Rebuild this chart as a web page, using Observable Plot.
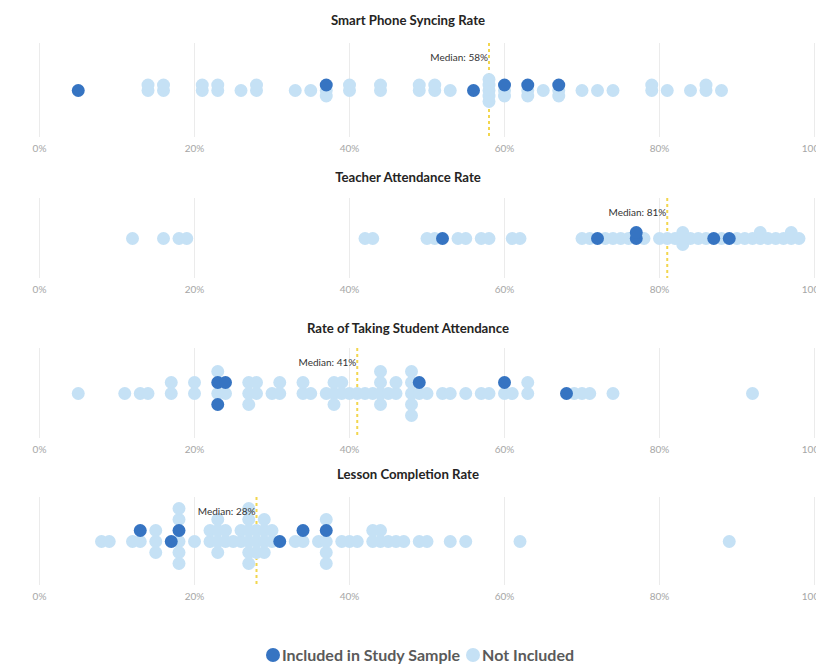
<!DOCTYPE html>
<html><head><meta charset="utf-8">
<script src="https://cdn.jsdelivr.net/npm/d3@7"></script>
<script src="https://cdn.jsdelivr.net/npm/@observablehq/plot@0.6"></script>
<style>
  html, body { margin: 0; padding: 0; background: #fff; }
  body { width: 816px; height: 667px; overflow: hidden; position: relative; font-family: Lato, "Open Sans", sans-serif; }
  .title { position: absolute; left: 0; width: 816px; text-align: center; font-weight: 700; font-size: 13.2px; line-height: 18px; color: #252423; }
  .panel { position: absolute; left: 0; }
  #legend { position: absolute; left: 0; width: 816px; top: 645px; display: flex; justify-content: center; align-items: center; font-weight: 700; font-size: 16px; color: #5a5a5a; padding-left: 24px; box-sizing: border-box; }
  #legend .sw { display: inline-block; width: 14px; height: 14px; border-radius: 50%; margin: 0 2px 0 0; }
  #legend .item { display: flex; align-items: center; margin: 0 3px; }
</style></head><body>
<script>
// ---- data ----
const titles = ["Smart Phone Syncing Rate", "Teacher Attendance Rate", "Rate of Taking Student Attendance", "Lesson Completion Rate"];
const medians = [58, 81, 41, 28];
const xTicks = [0, 20, 40, 60, 80, 100];
const seriesNames = ["Included in Study Sample", "Not Included"];

const phoneIncluded = [5, 37, 56, 60, 63, 67];
const phoneNotIncluded = [14, 14, 16, 16, 21, 21, 23, 23, 26, 28, 28, 33, 35, 37, 37, 40, 40, 44, 44, 49, 49, 51, 51, 53,
  58, 58, 58, 58, 58, 60, 60, 63, 63, 65, 67, 67, 70, 72, 74, 79, 79, 81, 84, 86, 86, 88];

const teacherIncluded = [52, 72, 77, 77, 87, 89];
const teacherNotIncluded = [12, 16, 18, 19, 42, 43, 50, 51, 54, 55, 57, 58, 61, 62, 70, 71, 73, 74, 75, 76, 78, 80, 81, 82,
  83, 83, 83, 84, 85, 86, 88, 90, 91, 92, 93, 93, 94, 95, 96, 97, 97, 98];

const studentIncluded = [23, 23, 24, 49, 60, 68];
const studentNotIncluded = [5, 11, 13, 14, 17, 17, 20, 20, 23, 23, 24, 27, 27, 27, 28, 28, 30, 31, 31, 34, 34, 35, 37,
  38, 38, 38, 39, 39, 40, 41, 42, 43, 44, 44, 44, 44, 45, 46, 46, 48, 48, 48, 48, 48, 49, 50, 52, 53, 55, 57, 58,
  60, 61, 63, 63, 69, 70, 71, 74, 92];

const lessonIncluded = [13, 17, 18, 31, 34, 37];
const lessonNotIncluded = [8, 9, 12, 13, 15, 15, 15, 18, 18, 18, 18, 18, 20, 22, 22, 23, 23, 23, 23, 24, 24, 25, 26, 26,
  27, 27, 27, 27, 27, 27, 28, 28, 28, 29, 29, 29, 29, 30, 30, 33, 34, 36, 37, 37, 37, 37, 39, 40, 41, 43, 43, 44, 44,
  45, 46, 47, 49, 50, 53, 55, 62, 89];

// ---- style / layout ----
const darkBlue = "#3674c2";
const lightBlue = "#c5e1f5";
const panels = [
  {inc: phoneIncluded, out: phoneNotIncluded, titleTop: 11, gridTop: 43, gridH: 94, step: 5.5},
  {inc: teacherIncluded, out: teacherNotIncluded, titleTop: 168, gridTop: 198, gridH: 80, step: 6},
  {inc: studentIncluded, out: studentNotIncluded, titleTop: 319, gridTop: 348, gridH: 90, step: 11},
  {inc: lessonIncluded, out: lessonNotIncluded, titleTop: 465, gridTop: 497, gridH: 88, step: 11}
];

// swarm lanes: dots sharing a value stack around the centre line (0, -1, +1, -2, +2, ...)
// order inside a stack: first "not included" dot, then "included" dots, then the rest
function swarm(inc, out) {
  const seen = new Set();
  const pts = [];
  out.forEach(v => { pts.push({v, g: seriesNames[1], pri: seen.has(v) ? 2 : 0}); seen.add(v); });
  inc.forEach(v => pts.push({v, g: seriesNames[0], pri: 1}));
  const count = new Map();
  for (const p of d3.sort(pts, d => d.pri)) {
    const k = count.get(p.v) || 0;
    count.set(p.v, k + 1);
    p.lane = k === 0 ? 0 : (k % 2 ? -(k + 1) / 2 : k / 2);
  }
  return pts;
}

const marginBottom = 22;
panels.forEach((p, i) => {
  const t = document.createElement("div");
  t.className = "title";
  t.style.top = p.titleTop + "px";
  t.textContent = titles[i];
  document.body.appendChild(t);

  const pts = swarm(p.inc, p.out);
  const half = p.gridH / 2 / p.step;
  const chart = Plot.plot({
    width: 816,
    height: p.gridH + marginBottom,
    marginLeft: 39, marginRight: 2, marginTop: 0, marginBottom,
    style: {fontFamily: "Lato, 'Open Sans', sans-serif", fontSize: "10px", color: "#a6a6a6", background: "transparent", overflow: "visible"},
    x: {domain: [0, 100], ticks: xTicks, tickFormat: d => d + "%", tickSize: 0, tickPadding: 7, label: null},
    y: {domain: [-half, half], reverse: true, axis: null},
    marks: [
      Plot.ruleX(xTicks, {stroke: "#ebebeb", strokeWidth: 1}),
      Plot.ruleX([medians[i]], {stroke: "#f2d64e", strokeWidth: 2, strokeDasharray: "3,3"}),
      Plot.dot(pts.filter(d => d.g === seriesNames[1]), {x: "v", y: "lane", r: 6.5, fill: lightBlue}),
      Plot.dot(pts.filter(d => d.g === seriesNames[0]), {x: "v", y: "lane", r: 6.5, fill: darkBlue}),
      Plot.text([medians[i]], {x: d => d, frameAnchor: "top", dy: 10, dx: -1, textAnchor: "end",
        text: d => `Median: ${d}%`, fill: "#333", fontSize: 10})
    ]
  });
  chart.classList.add("panel");
  chart.style.top = p.gridTop + "px";
  document.body.appendChild(chart);
});

const legend = document.createElement("div");
legend.id = "legend";
[[seriesNames[0], darkBlue], [seriesNames[1], lightBlue]].forEach(([name, c]) => {
  const it = document.createElement("span");
  it.className = "item";
  const sw = document.createElement("span");
  sw.className = "sw";
  sw.style.background = c;
  it.appendChild(sw);
  it.appendChild(document.createTextNode(name));
  legend.appendChild(it);
});
document.body.appendChild(legend);
</script>
</body></html>
